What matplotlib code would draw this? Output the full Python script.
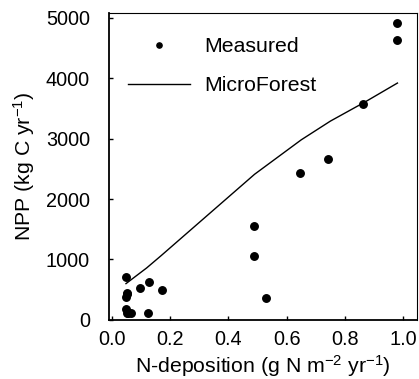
import matplotlib
matplotlib.use("Agg")
import matplotlib.pyplot as plt

plt.rcParams['font.family'] = ['Liberation Sans', 'DejaVu Sans']
plt.rcParams['mathtext.fontset'] = 'custom'
plt.rcParams['mathtext.rm'] = 'Liberation Sans'
plt.rcParams['mathtext.default'] = 'regular'

# measured NPP vs N-deposition
meas_x = [0.049, 0.051, 0.049, 0.054, 0.049, 0.055, 0.066, 0.051, 0.096, 0.129,
          0.171, 0.123, 0.488, 0.488, 0.528, 0.646, 0.741, 0.863, 0.977, 0.977]
meas_y = [706, 430, 386, 453, 182, 116, 110, 110, 530, 624,
          497, 121, 1562, 1060, 359, 2434, 2671, 3576, 4912, 4630]

# MicroForest model curve
model_x = [0.049, 0.12, 0.17, 0.49, 0.65, 0.75, 0.87, 0.98]
model_y = [600, 860, 1065, 2410, 2980, 3290, 3610, 3920]

tick_fs = 14.3
lab_fs = 15.3

fig = plt.figure(figsize=(4.19, 3.79), dpi=100)
ax = fig.add_axes([0.261, 0.156, 0.7335, 0.809])

ax.plot(meas_x, meas_y, 'o', color='black', markersize=5.4, label='Measured')
ax.plot(model_x, model_y, '-', color='black', linewidth=1.0, label='MicroForest')

ax.set_xlim(-0.008, 1.046)
ax.set_ylim(0, 5075)
ax.set_xticks([0.0, 0.2, 0.4, 0.6, 0.8, 1.0])
ax.set_xticklabels(['0.0', '0.2', '0.4', '0.6', '0.8', '1.0'])
ax.set_yticks([0, 1000, 2000, 3000, 4000, 5000])

ax.tick_params(direction='in', length=3, width=1, labelsize=tick_fs)
ax.tick_params(axis='x', pad=7)
ax.tick_params(axis='y', pad=14)

for side in ['left', 'bottom']:
    ax.spines[side].set_linewidth(1.3)
for side in ['top', 'right']:
    ax.spines[side].set_linewidth(0.8)

ax.set_xlabel('N-deposition (g N m$^{-2}$ yr$^{-1}$)', fontsize=lab_fs, labelpad=3)
ax.set_ylabel('NPP (kg C yr$^{-1}$)', fontsize=lab_fs, labelpad=6)

ax.legend(loc='upper left', bbox_to_anchor=(0.0, 0.985), frameon=False,
          fontsize=lab_fs, markerscale=0.7, handlelength=2.9, handletextpad=0.65,
          labelspacing=0.95)

fig.savefig('out.png', dpi=100)
